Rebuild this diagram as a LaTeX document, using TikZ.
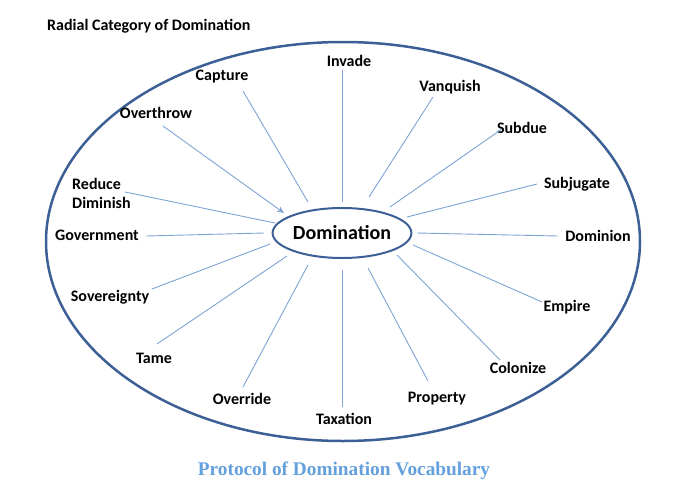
\documentclass[tikz,border=0pt]{standalone}
\usepackage{fontspec}
\setmainfont{Carlito}
\newfontfamily\capfont{Liberation Serif}
\usetikzlibrary{arrows.meta, shapes.geometric}
\definecolor{rimblue}{RGB}{60,95,150}
\definecolor{spokeblue}{RGB}{125,163,212}
\definecolor{capblue}{RGB}{100,160,220}

\begin{document}
\begin{tikzpicture}[x=1pt, y=-1pt,
        word/.style={font=\fontsize{16}{19}\selectfont\bfseries, inner sep=0pt},
        spoke/.style={spokeblue, line width=0.9pt}]
        \useasboundingbox (0, 0) rectangle (675, 501);
        \draw[rimblue, line width=2.5pt] (343, 241.5) ellipse [x radius=297, y radius=199.5];
        \node[draw=rimblue, line width=2pt, ellipse, minimum width=132pt, minimum height=50pt, inner sep=0pt,
              font=\fontsize{20}{24}\selectfont\bfseries] (dom) at (342, 233) {Domination};

        \node[word, anchor=west] (title) at (47, 26) {Radial Category of Domination};
        \node[word] (invade) at (349, 61) {Invade};
        \node[word] (vanquish) at (450, 87) {Vanquish};
        \node[word] (subdue) at (522, 128) {Subdue};
        \node[word] (subjugate) at (577, 184) {Subjugate};
        \node[word] (dominion) at (598, 236) {Dominion};
        \node[word] (empire) at (567, 307) {Empire};
        \node[word] (colonize) at (518, 368) {Colonize};
        \node[word] (property) at (437, 399) {Property};
        \node[word] (taxation) at (344, 419) {Taxation};
        \node[word] (override) at (242, 399) {Override};
        \node[word] (tame) at (154, 358) {Tame};
        \node[word] (sovereignty) at (110, 297) {Sovereignty};
        \node[word] (government) at (97, 235) {Government};
        \node[word, anchor=west, align=left] (reduce) at (72, 193) {Reduce\\Diminish};
        \node[word] (overthrow) at (156, 113) {Overthrow};
        \node[word] (capture) at (222, 77) {Capture};

        \coordinate (invade-o) at (342, 70);      \coordinate (invade-i) at (342, 202);
        \coordinate (vanquish-o) at (433, 97);    \coordinate (vanquish-i) at (369, 197);
        \coordinate (subdue-o) at (502, 129);     \coordinate (subdue-i) at (390, 207);
        \coordinate (subjugate-o) at (537, 184);  \coordinate (subjugate-i) at (407, 217);
        \coordinate (dominion-o) at (558, 236);   \coordinate (dominion-i) at (417, 233);
        \coordinate (empire-o) at (542, 302);     \coordinate (empire-i) at (413, 245);
        \coordinate (colonize-o) at (500, 360);   \coordinate (colonize-i) at (397, 255);
        \coordinate (property-o) at (428, 381);   \coordinate (property-i) at (368, 268);
        \coordinate (taxation-o) at (342, 407);   \coordinate (taxation-i) at (342, 270);
        \coordinate (override-o) at (243, 387);   \coordinate (override-i) at (308, 265);
        \coordinate (tame-o) at (157, 344);       \coordinate (tame-i) at (287, 256);
        \coordinate (sovereignty-o) at (152, 289); \coordinate (sovereignty-i) at (270, 244);
        \coordinate (government-o) at (146, 236); \coordinate (government-i) at (264, 233);
        \coordinate (reduce-o) at (125, 192);     \coordinate (reduce-i) at (275, 223);
        \coordinate (overthrow-o) at (163, 126);  \coordinate (overthrow-i) at (284, 213);
        \coordinate (capture-o) at (243, 91);     \coordinate (capture-i) at (308, 202);

        \draw[spoke] (invade-o) -- (invade-i);
        \draw[spoke] (vanquish-o) -- (vanquish-i);
        \draw[spoke] (subdue-o) -- (subdue-i);
        \draw[spoke] (subjugate-o) -- (subjugate-i);
        \draw[spoke] (dominion-o) -- (dominion-i);
        \draw[spoke] (empire-o) -- (empire-i);
        \draw[spoke] (colonize-o) -- (colonize-i);
        \draw[spoke] (property-o) -- (property-i);
        \draw[spoke] (taxation-o) -- (taxation-i);
        \draw[spoke] (override-o) -- (override-i);
        \draw[spoke] (tame-o) -- (tame-i);
        \draw[spoke] (sovereignty-o) -- (sovereignty-i);
        \draw[spoke] (government-o) -- (government-i);
        \draw[spoke] (reduce-o) -- (reduce-i);
        \draw[spoke, -{Stealth[length=7pt, width=6pt]}] (overthrow-o) -- (overthrow-i);
        \draw[spoke] (capture-o) -- (capture-i);

        \node[capblue, font=\capfont\fontsize{19.3}{22}\selectfont\bfseries] (caption) at (344, 471) {Protocol of Domination Vocabulary};
    \end{tikzpicture}
\end{document}
